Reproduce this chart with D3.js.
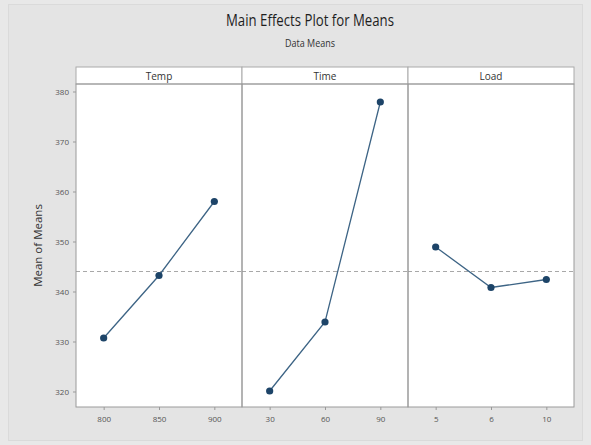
<!DOCTYPE html>
<html>
<head>
<meta charset="utf-8">
<script src="https://cdn.jsdelivr.net/npm/d3@7"></script>
<style>
  html, body { margin: 0; padding: 0; background: #e6e6e6; }
  svg { display: block; font-family: "Open Sans", "Noto Sans", sans-serif; }
</style>
</head>
<body>
<div id="chart"></div>
<script>
// ---- data ----
const factors = ["Temp", "Time", "Load"];
const tempLevels = ["800", "850", "900"];
const tempMeans = [330.7, 343.2, 358.0];
const timeLevels = ["30", "60", "90"];
const timeMeans = [320.1, 333.9, 377.9];
const loadLevels = ["5", "6", "10"];
const loadMeans = [348.9, 340.8, 342.4];
const grandMean = 344.0;
const yTicks = [320, 330, 340, 350, 360, 370, 380];
const titleText = "Main Effects Plot for Means";
const subtitleText = "Data Means";
const yLabel = "Mean of Means";

const panels = [
  { name: factors[0], levels: tempLevels, means: tempMeans },
  { name: factors[1], levels: timeLevels, means: timeMeans },
  { name: factors[2], levels: loadLevels, means: loadMeans }
];

// ---- layout ----
const W = 591, H = 445;
const left = 76, right = 574, headerTop = 67, plotTop = 84, plotBottom = 407;

const svg = d3.select("#chart").append("svg")
  .attr("width", W).attr("height", H);

svg.append("rect").attr("x", 0).attr("y", 0).attr("width", W).attr("height", H)
  .attr("fill", "#e8e8e8");
svg.append("rect").attr("x", 8.5).attr("y", 4.5).attr("width", W - 17).attr("height", H - 9)
  .attr("fill", "#e4e4e4").attr("stroke", "#dadada");

svg.append("text").attr("x", 310).attr("y", 26).attr("text-anchor", "middle")
  .attr("font-size", 15.5).attr("fill", "#1e1e1e")
  .attr("textLength", 168).attr("lengthAdjust", "spacingAndGlyphs").text(titleText);
svg.append("text").attr("x", 310).attr("y", 47).attr("text-anchor", "middle")
  .attr("font-size", 11).attr("fill", "#333")
  .attr("textLength", 50).attr("lengthAdjust", "spacingAndGlyphs").text(subtitleText);

const y = d3.scaleLinear().domain([316.9, 381.5]).range([plotBottom, plotTop]);
const panelScale = d3.scaleBand().domain(factors).range([left, right]).padding(0);

// white plot area
svg.append("rect").attr("x", left).attr("y", plotTop).attr("width", right - left)
  .attr("height", plotBottom - plotTop).attr("fill", "#fff");

// y axis
const yAxis = d3.axisLeft(y).tickValues(yTicks).tickSize(3).tickPadding(4);
const gy = svg.append("g").attr("transform", `translate(${left},0)`).call(yAxis);
gy.select(".domain").remove();
gy.selectAll(".tick line").attr("stroke", "#999");
gy.selectAll(".tick text").attr("font-size", 8).attr("fill", "#555")
  .attr("font-family", "'Open Sans', sans-serif");

svg.append("text").attr("transform", `translate(42,${(plotTop + plotBottom) / 2}) rotate(-90)`)
  .attr("text-anchor", "middle").attr("font-size", 11.5).attr("fill", "#333").text(yLabel);

const line = d3.line();

panels.forEach(p => {
  const x0 = panelScale(p.name), bw = panelScale.bandwidth();
  const x = d3.scalePoint().domain(p.levels).range([x0, x0 + bw]).padding(0.5);

  // header
  svg.append("rect").attr("x", x0).attr("y", headerTop).attr("width", bw)
    .attr("height", plotTop - headerTop).attr("fill", "#fff")
    .attr("stroke", "#aaa").attr("stroke-width", 1);
  svg.append("text").attr("x", x0 + bw / 2).attr("y", plotTop - 4.5)
    .attr("text-anchor", "middle").attr("font-size", 10).attr("fill", "#333").text(p.name);

  // x axis
  const xAxis = d3.axisBottom(x).tickSize(3).tickPadding(6);
  const gx = svg.append("g").attr("transform", `translate(0,${plotBottom})`).call(xAxis);
  gx.select(".domain").remove();
  gx.selectAll(".tick line").attr("stroke", "#999");
  gx.selectAll(".tick text").attr("font-size", 8).attr("fill", "#555")
    .attr("font-family", "'Open Sans', sans-serif");

  // grand mean reference
  svg.append("line").attr("x1", x0).attr("x2", x0 + bw)
    .attr("y1", y(grandMean)).attr("y2", y(grandMean))
    .attr("stroke", "#a8a8a8").attr("stroke-width", 1).attr("stroke-dasharray", "4,3");

  const pts = p.levels.map((l, i) => [x(l), y(p.means[i])]);
  svg.append("path").attr("d", line(pts)).attr("fill", "none")
    .attr("stroke", "#3d6485").attr("stroke-width", 1.3);
  svg.selectAll(null).data(pts).enter().append("circle")
    .attr("cx", d => d[0]).attr("cy", d => d[1]).attr("r", 3.6)
    .attr("fill", "#1d4468");
});

// panel borders
panels.forEach(p => {
  const x0 = panelScale(p.name), bw = panelScale.bandwidth();
  svg.append("rect").attr("x", x0).attr("y", plotTop).attr("width", bw)
    .attr("height", plotBottom - plotTop).attr("fill", "none")
    .attr("stroke", "#9a9a9a").attr("stroke-width", 1);
});
</script>
</body>
</html>
